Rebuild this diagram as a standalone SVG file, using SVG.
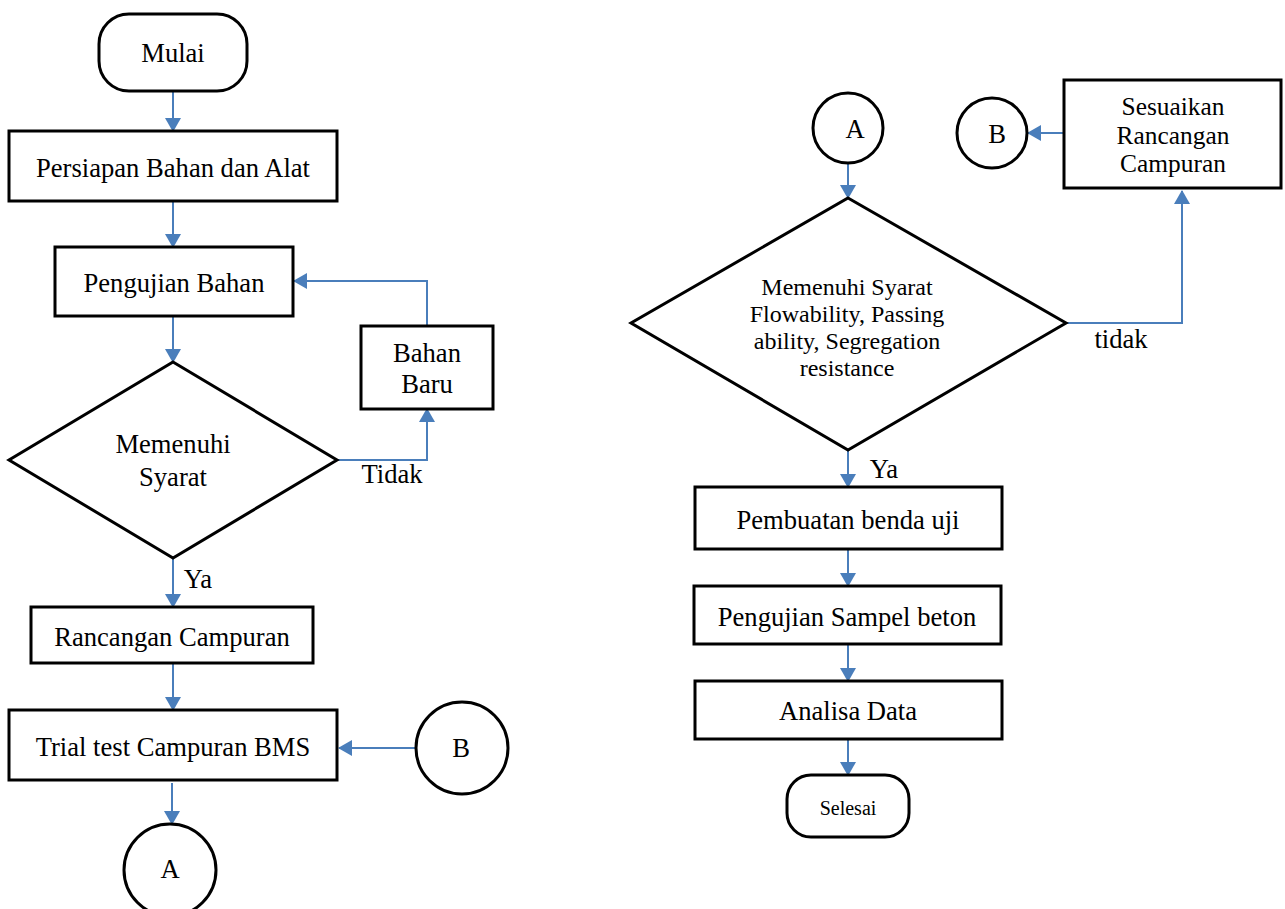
<svg xmlns="http://www.w3.org/2000/svg" width="1285" height="909" viewBox="0 0 1285 909">
<style>
.s{fill:#fff;stroke:#000;stroke-width:3}
.t{font-family:"Liberation Serif","Times New Roman",serif;font-size:26.6px;fill:#000;text-anchor:middle}
.r{font-size:24px}
.q{font-size:25.4px}
.c{fill:none;stroke:#4A7EBB;stroke-width:2}
</style>
<defs>
<marker id="ah" markerUnits="userSpaceOnUse" markerWidth="16" markerHeight="16" viewBox="0 0 14 16" refX="13" refY="8" orient="auto">
<path d="M0,0 L14,8 L0,16 Z" fill="#4A7EBB"/>
</marker>
</defs>
<g id="connectors">
<line class="c" x1="173" y1="91" x2="173" y2="131" marker-end="url(#ah)"/>
<line class="c" x1="173" y1="201" x2="173" y2="247" marker-end="url(#ah)"/>
<line class="c" x1="173" y1="316" x2="173" y2="362" marker-end="url(#ah)"/>
<line class="c" x1="173" y1="558" x2="173" y2="607" marker-end="url(#ah)"/>
<line class="c" x1="173" y1="663" x2="173" y2="710" marker-end="url(#ah)"/>
<line class="c" x1="172" y1="783" x2="172" y2="824" marker-end="url(#ah)"/>
<line class="c" x1="416" y1="748" x2="339" y2="748" marker-end="url(#ah)"/>
<path class="c" d="M337,460 H427 V409" marker-end="url(#ah)"/>
<path class="c" d="M427,326 V281 H294" marker-end="url(#ah)"/>
<line class="c" x1="848" y1="163" x2="848" y2="198" marker-end="url(#ah)"/>
<line class="c" x1="848" y1="450" x2="848" y2="487" marker-end="url(#ah)"/>
<line class="c" x1="848" y1="549" x2="848" y2="586" marker-end="url(#ah)"/>
<line class="c" x1="848" y1="644" x2="848" y2="681" marker-end="url(#ah)"/>
<line class="c" x1="848" y1="739" x2="848" y2="775" marker-end="url(#ah)"/>
<line class="c" x1="1064" y1="133" x2="1028" y2="133" marker-end="url(#ah)"/>
<path class="c" d="M1066,323 H1182 V191" marker-end="url(#ah)"/>
<text class="t" x="392" y="483">Tidak</text>
<text class="t" x="198" y="588">Ya</text>
<text class="t" x="1121" y="348">tidak</text>
<text class="t" x="884" y="478">Ya</text>
</g>
<g id="mulai"><rect class="s" x="99" y="14" width="148" height="77" rx="30"/><text class="t" x="173" y="62">Mulai</text></g>
<g id="persiapan"><rect class="s" x="9" y="131" width="328" height="70"/><text class="t" x="173" y="177">Persiapan Bahan dan Alat</text></g>
<g id="pengujian-bahan"><rect class="s" x="55" y="247" width="238" height="69"/><text class="t" x="174" y="292">Pengujian Bahan</text></g>
<g id="bahan-baru"><rect class="s" x="361" y="326" width="132" height="83"/><text class="t" x="427" y="362">Bahan</text><text class="t" x="427" y="393">Baru</text></g>
<g id="memenuhi-syarat"><polygon class="s" points="173,362 337,460 173,558 9,460"/><text class="t" x="173" y="453">Memenuhi</text><text class="t" x="173" y="486">Syarat</text></g>
<g id="rancangan"><rect class="s" x="31" y="607" width="282" height="56"/><text class="t" x="172" y="646">Rancangan Campuran</text></g>
<g id="trial"><rect class="s" x="9" y="710" width="328" height="70"/><text class="t" x="173" y="756">Trial test Campuran BMS</text></g>
<g id="b-left"><circle class="s" cx="462" cy="748" r="46"/><text class="t" x="461" y="757">B</text></g>
<g id="a-left"><circle class="s" cx="170" cy="870" r="46"/><text class="t" x="170" y="878">A</text></g>
<g id="a-right"><circle class="s" cx="848" cy="128" r="35"/><text class="t" x="855" y="138">A</text></g>
<g id="b-right"><circle class="s" cx="992" cy="133" r="35"/><text class="t" x="997" y="143">B</text></g>
<g id="sesuaikan"><rect class="s" x="1064" y="80" width="217" height="108"/><text class="t q" x="1173" y="115">Sesuaikan</text><text class="t q" x="1173" y="144">Rancangan</text><text class="t q" x="1173" y="172">Campuran</text></g>
<g id="memenuhi-syarat-flow"><polygon class="s" points="848,198 1066,323 848,450 631,323"/><text class="t r" x="847" y="295">Memenuhi Syarat</text><text class="t r" x="847" y="322">Flowability, Passing</text><text class="t r" x="847" y="349">ability, Segregation</text><text class="t r" x="847" y="376">resistance</text></g>
<g id="pembuatan"><rect class="s" x="695" y="487" width="307" height="62"/><text class="t" x="848" y="529">Pembuatan benda uji</text></g>
<g id="pengujian-sampel"><rect class="s" x="694" y="586" width="307" height="58"/><text class="t" x="847" y="626">Pengujian Sampel beton</text></g>
<g id="analisa"><rect class="s" x="695" y="681" width="307" height="58"/><text class="t" x="848" y="720">Analisa Data</text></g>
<g id="selesai"><rect class="s" x="787" y="775" width="122" height="62" rx="24"/><text class="t" x="848" y="815" style="font-size:20px">Selesai</text></g>
</svg>
